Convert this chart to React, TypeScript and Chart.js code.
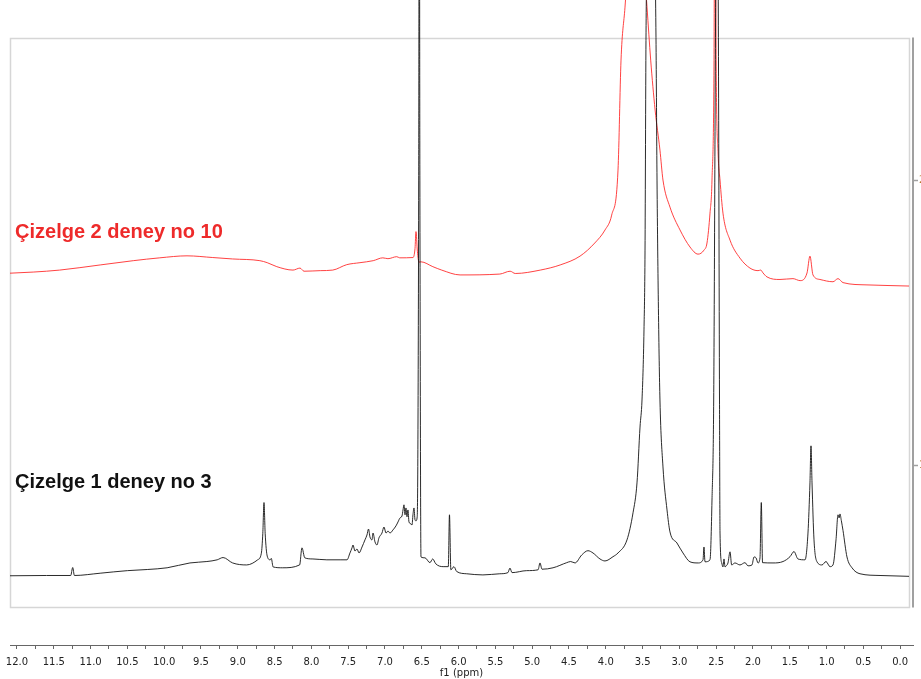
import { useEffect, useRef } from 'react';
import { Chart, registerables } from 'chart.js';

Chart.register(...registerables);

// x axis (chemical shift, ppm) – labelled ticks
const xMajorTicks = [12.0, 11.5, 11.0, 10.5, 10.0, 9.5, 9.0, 8.5, 8.0, 7.5, 7.0, 6.5, 6.0, 5.5, 5.0, 4.5, 4.0, 3.5, 3.0, 2.5, 2.0, 1.5, 1.0, 0.5, 0.0];
// right intensity axis ticks
const yTicks = [1, 2];

const seriesNames = ['Çizelge 1 deney no 3', 'Çizelge 2 deney no 10'];

// Spectrum of "Çizelge 1 deney no 3" : [ppm, intensity]
const blackSpectrum: [number, number][] = [
  [12.10, 0.611], [11.60, 0.612], [11.27, 0.612], [11.243, 0.640], [11.22, 0.612],
  [10.87, 0.620], [10.50, 0.629], [10.23, 0.633], [9.96, 0.639], [9.65, 0.656],
  [9.42, 0.661], [9.28, 0.667], [9.20, 0.675], [9.07, 0.656], [8.88, 0.649],
  [8.73, 0.667], [8.68, 0.690], [8.66, 0.760], [8.644, 0.868], [8.628, 0.760],
  [8.60, 0.680], [8.56, 0.667], [8.545, 0.672], [8.52, 0.642], [8.39, 0.639],
  [8.16, 0.649], [8.128, 0.709], [8.09, 0.674], [7.98, 0.670], [7.79, 0.667],
  [7.61, 0.667], [7.516, 0.667], [7.476, 0.691], [7.448, 0.709], [7.435, 0.719],
  [7.408, 0.698], [7.380, 0.705], [7.353, 0.691], [7.312, 0.712], [7.272, 0.737],
  [7.245, 0.754], [7.224, 0.775], [7.204, 0.747], [7.177, 0.737], [7.163, 0.761],
  [7.136, 0.730], [7.109, 0.719], [7.082, 0.744], [7.041, 0.761], [7.014, 0.782],
  [6.986, 0.761], [6.959, 0.768], [6.932, 0.761], [6.891, 0.772], [6.851, 0.786],
  [6.823, 0.800], [6.796, 0.814], [6.769, 0.821], [6.755, 0.842], [6.742, 0.860],
  [6.728, 0.825], [6.715, 0.849], [6.701, 0.818], [6.688, 0.842], [6.674, 0.800],
  [6.647, 0.793], [6.633, 0.789], [6.620, 0.825], [6.606, 0.849], [6.592, 0.807],
  [6.579, 0.804], [6.562, 0.819], [6.542, 2.0], [6.534, 3.4],
  [6.526, 2.0], [6.511, 0.677], [6.457, 0.674], [6.389, 0.657], [6.352, 0.670],
  [6.31, 0.653], [6.21, 0.643], [6.14, 0.643], [6.124, 0.825], [6.105, 0.632],
  [6.063, 0.643], [6.026, 0.626], [5.89, 0.618], [5.67, 0.614], [5.44, 0.618],
  [5.33, 0.622], [5.302, 0.638], [5.274, 0.622], [5.075, 0.629], [4.92, 0.632],
  [4.894, 0.656], [4.867, 0.634], [4.717, 0.639], [4.531, 0.657], [4.477, 0.661],
  [4.418, 0.656], [4.327, 0.684], [4.242, 0.699], [4.174, 0.691], [4.079, 0.670],
  [4.011, 0.663], [3.902, 0.678], [3.834, 0.691], [3.712, 0.737], [3.630, 0.832],
  [3.576, 0.937], [3.535, 1.133], [3.508, 1.228], [3.481, 1.474], [3.467, 1.754],
  [3.454, 2.49], [3.43, 2.9], [3.386, 3.1], [3.34, 2.9], [3.318, 2.5],
  [3.304, 2.0], [3.285, 1.55], [3.264, 1.228], [3.223, 0.993], [3.168, 0.842],
  [3.128, 0.765], [3.033, 0.726], [2.951, 0.691], [2.856, 0.660], [2.747, 0.656],
  [2.679, 0.667], [2.666, 0.712], [2.652, 0.660], [2.584, 0.667], [2.557, 0.877],
  [2.534, 1.228], [2.51, 2.5], [2.489, 3.5], [2.47, 2.5], [2.455, 1.228],
  [2.448, 0.761], [2.425, 0.656], [2.408, 0.642], [2.394, 0.670], [2.380, 0.642],
  [2.367, 0.645], [2.340, 0.656], [2.312, 0.695], [2.290, 0.649], [2.245, 0.656],
  [2.177, 0.649], [2.109, 0.657], [2.068, 0.646], [2.014, 0.649], [1.986, 0.677],
  [1.959, 0.674], [1.932, 0.656], [1.905, 0.674], [1.887, 0.868], [1.870, 0.657],
  [1.728, 0.656], [1.592, 0.661], [1.497, 0.678], [1.443, 0.696], [1.389, 0.670],
  [1.293, 0.667], [1.253, 0.761], [1.226, 0.937], [1.212, 1.067], [1.198, 0.937],
  [1.171, 0.737], [1.130, 0.660], [1.062, 0.649], [1.008, 0.661], [0.954, 0.643],
  [0.913, 0.649], [0.872, 0.737], [0.845, 0.825], [0.830, 0.814], [0.818, 0.828],
  [0.800, 0.805], [0.777, 0.770], [0.723, 0.677], [0.655, 0.639], [0.546, 0.618],
  [0.274, 0.612], [-0.12, 0.609],
];

// Spectrum of "Çizelge 2 deney no 10" : [ppm, intensity]
const redSpectrum: [number, number][] = [
  [12.10, 1.673], [11.78, 1.677], [11.42, 1.684], [10.87, 1.702], [10.42, 1.717],
  [10.06, 1.727], [9.69, 1.734], [9.34, 1.728], [9.07, 1.723], [8.70, 1.717],
  [8.60, 1.710], [8.47, 1.696], [8.25, 1.684], [8.155, 1.691], [8.10, 1.680],
  [7.88, 1.682], [7.71, 1.684], [7.52, 1.703], [7.34, 1.710], [7.16, 1.717],
  [7.03, 1.727], [6.96, 1.724], [6.84, 1.731], [6.80, 1.727], [6.62, 1.728],
  [6.592, 1.760], [6.579, 1.819], [6.56, 1.750], [6.538, 1.712], [6.511, 1.713],
  [6.35, 1.696], [6.23, 1.684], [5.98, 1.667], [5.44, 1.670], [5.30, 1.680],
  [5.23, 1.672], [4.89, 1.684], [4.62, 1.702], [4.35, 1.733], [4.15, 1.779],
  [4.01, 1.825], [3.92, 1.877], [3.834, 2.035], [3.793, 2.421], [3.739, 2.607],
  [3.70, 2.75], [3.59, 3.0], [3.48, 2.75], [3.44, 2.607], [3.39, 2.421],
  [3.33, 2.246], [3.264, 2.105], [3.223, 2.0], [3.128, 1.905], [2.992, 1.825],
  [2.856, 1.765], [2.747, 1.740], [2.666, 1.754], [2.625, 1.779], [2.584, 1.884],
  [2.557, 2.0], [2.53, 2.4], [2.516, 3.3], [2.50, 2.4], [2.475, 2.1],
  [2.448, 2.0], [2.408, 1.884], [2.312, 1.789], [2.177, 1.726], [2.041, 1.691],
  [1.932, 1.682], [1.895, 1.684], [1.864, 1.674], [1.810, 1.660], [1.633, 1.651],
  [1.457, 1.654], [1.361, 1.647], [1.266, 1.674], [1.226, 1.733], [1.185, 1.667],
  [1.090, 1.651], [0.913, 1.643], [0.845, 1.654], [0.777, 1.640], [0.451, 1.632],
  [-0.12, 1.628],
];

// label anchor points in data units [ppm, intensity]
const labelAnchors: [number, number][] = [[12.027, 0.919], [12.027, 1.796]];

// plot frame extents in data units
const frameX = [12.095, -0.12];
const frameY = [0.5, 2.5];

export default function App() {
  const ref = useRef<HTMLCanvasElement>(null);

  useEffect(() => {
    const canvas = ref.current;
    if (!canvas) return;
    Chart.defaults.font.family = "'DejaVu Sans', Verdana, sans-serif";

    const xMinor = xMajorTicks.slice(1).map((v, i) => (v + xMajorTicks[i]) / 2);
    const allXTicks = [...xMajorTicks, ...xMinor].sort((a, b) => b - a);
    const isMajor = (v: number) => xMajorTicks.some((m) => Math.abs(m - v) < 1e-6);

    const decor = {
      id: 'decor',
      beforeDatasetsDraw(chart: any) {
        const { ctx, scales } = chart;
        const x = scales.x;
        const y = scales.y;
        const l = Math.round(x.getPixelForValue(frameX[0])) + 0.5;
        const r = Math.round(x.getPixelForValue(frameX[1])) + 0.5;
        const t = Math.round(y.getPixelForValue(frameY[1])) + 0.5;
        const b = Math.round(y.getPixelForValue(frameY[0])) + 0.5;
        ctx.save();
        ctx.strokeStyle = '#d6d6d6';
        ctx.lineWidth = 1.5;
        ctx.strokeRect(l, t, r - l, b - t);
        ctx.restore();
      },
      afterDatasetsDraw(chart: any) {
        const { ctx, scales, chartArea } = chart;
        const x = scales.x;
        const y = scales.y;
        // right intensity axis line + ticks + labels
        const ax = chartArea.right;
        ctx.save();
        ctx.strokeStyle = '#a0a0a0';
        ctx.lineWidth = 2;
        ctx.beginPath();
        ctx.moveTo(ax, y.getPixelForValue(frameY[1]));
        ctx.lineTo(ax, y.getPixelForValue(frameY[0]));
        ctx.stroke();
        ctx.lineWidth = 1.5;
        ctx.font = "10px 'DejaVu Sans', Verdana, sans-serif";
        ctx.textAlign = 'left';
        ctx.textBaseline = 'middle';
        ctx.fillStyle = '#b8742a';
        yTicks.forEach((v) => {
          const py = Math.round(y.getPixelForValue(v)) + 0.5;
          ctx.beginPath();
          ctx.moveTo(ax, py);
          ctx.lineTo(ax + 5, py);
          ctx.stroke();
          ctx.fillText(String(v), ax + 6, py);
        });
        // series labels
        ctx.font = "bold 20px 'Liberation Sans', Arial, sans-serif";
        ctx.textBaseline = 'alphabetic';
        ctx.textAlign = 'left';
        const colors = ['#111111', '#ee2a2a'];
        seriesNames.forEach((name, i) => {
          ctx.fillStyle = colors[i];
          ctx.fillText(name, x.getPixelForValue(labelAnchors[i][0]), y.getPixelForValue(labelAnchors[i][1]));
        });
        ctx.restore();
      },
    };

    const lineStyle = {
      borderWidth: 1,
      pointRadius: 0,
      cubicInterpolationMode: 'monotone' as const,
      fill: false,
    };

    const chart = new Chart(canvas, {
      type: 'line',
      data: {
        datasets: [
          {
            label: seriesNames[0],
            data: blackSpectrum.map(([p, v]) => ({ x: p, y: v })),
            borderColor: 'rgba(20,20,20,0.9)',
            ...lineStyle,
          },
          {
            label: seriesNames[1],
            data: redSpectrum.map(([p, v]) => ({ x: p, y: v })),
            borderColor: 'rgba(255,45,45,0.9)',
            ...lineStyle,
          },
        ],
      },
      options: {
        responsive: false,
        animation: false,
        events: [],
        layout: { padding: { left: 10, right: 0, top: 0, bottom: 0 } },
        plugins: { legend: { display: false }, tooltip: { enabled: false }, title: { display: false } },
        scales: {
          x: {
            type: 'linear',
            position: 'bottom',
            reverse: true,
            min: -0.174,
            max: 12.095,
            grid: { display: true, drawOnChartArea: false, drawTicks: true, tickLength: 4, color: '#666666' },
            border: { display: true, color: '#666666', width: 1 },
            ticks: {
              autoSkip: false,
              maxRotation: 0,
              minRotation: 0,
              padding: 7,
              color: '#222222',
              font: { size: 10 },
              callback: (value: any) => (isMajor(Number(value)) ? Number(value).toFixed(1) : ''),
            },
            title: { display: true, text: 'f1 (ppm)', color: '#222222', font: { size: 10 }, padding: { top: 0, bottom: 0 } },
            afterBuildTicks: (s: any) => {
              s.ticks = allXTicks.map((v) => ({ value: v }));
            },
            afterFit: (s: any) => {
              s.height = 34;
              s.paddingLeft = 0;
              s.paddingRight = 0;
            },
          },
          y: {
            type: 'linear',
            position: 'right',
            min: 0.368,
            max: 2.632,
            grid: { display: false },
            border: { display: false },
            ticks: { display: false },
            afterBuildTicks: (s: any) => {
              s.ticks = yTicks.map((v) => ({ value: v }));
            },
            afterFit: (s: any) => {
              s.width = 8;
              s.paddingTop = 0;
              s.paddingBottom = 0;
            },
          },
        },
      },
      plugins: [decor],
    });
    return () => chart.destroy();
  }, []);

  return (
    <div style={{ position: 'fixed', left: 0, top: 0, width: 921, height: 679, background: '#ffffff' }}>
      <canvas ref={ref} width={921} height={679} style={{ display: 'block' }} />
    </div>
  );
}
